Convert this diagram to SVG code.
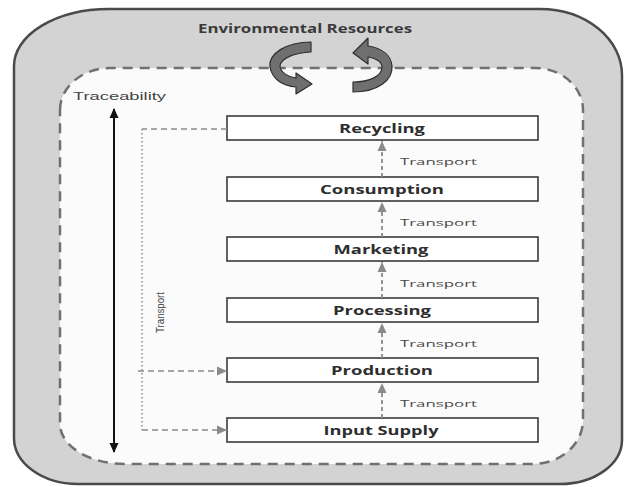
<svg xmlns="http://www.w3.org/2000/svg" width="630" height="487" viewBox="0 0 630 487">
  <style>
    .box { fill: #ffffff; stroke: #3a3a3a; stroke-width: 1.6; }
    .lbl { font-family: "Open Sans", "DejaVu Sans", sans-serif; font-weight: bold; font-size: 12.5px; fill: #2e2e2e; text-anchor: middle; }
    .tr { font-family: "Open Sans", "DejaVu Sans", sans-serif; font-size: 9.5px; fill: #4a4a4a; }
    .flow { stroke: #8a8a8a; stroke-width: 1.8; stroke-dasharray: 4 3; fill: none; }
    .side { stroke: #8a8a8a; stroke-width: 1.5; stroke-dasharray: 6 4; fill: none; }
    .dots { stroke: #8a8a8a; stroke-width: 1.5; stroke-dasharray: 1.5 2.5; fill: none; }
    .cyc { fill: #6f6f6f; stroke: #2f2f2f; stroke-width: 1.2; stroke-linejoin: round; }
  </style>
  <defs>
    <marker id="grayHead" markerUnits="userSpaceOnUse" markerWidth="10" markerHeight="10" viewBox="0 0 10 10" refX="10" refY="5" orient="auto">
      <path d="M0,0.5 L10,5 L0,9.5 Z" fill="#8a8a8a"/>
    </marker>
    <marker id="blackHead" markerUnits="userSpaceOnUse" markerWidth="10" markerHeight="10" viewBox="0 0 10 10" refX="9" refY="5" orient="auto-start-reverse">
      <path d="M0,0.5 L10,5 L0,9.5 Z" fill="#111111"/>
    </marker>
  </defs>

  <!-- outer environment shell -->
  <g id="environment">
    <path d="M14,66 A95,57 0 0 1 109,9 L540,9 A82,66 0 0 1 622,75 L622,440 A62,44 0 0 1 560,484 L78,484 A64,46 0 0 1 14,438 Z" fill="#d3d3d3" stroke="#4a4a4a" stroke-width="2.5"/>
    <text x="305" y="33" font-family="Open Sans, DejaVu Sans, sans-serif" font-weight="bold" font-size="12" fill="#3a3a3a" text-anchor="middle" textLength="214" lengthAdjust="spacingAndGlyphs">Environmental Resources</text>
  </g>

  <!-- supply chain boundary -->
  <g id="chain">
    <path d="M60,110 A50,42 0 0 1 110,68 L535,68 A48,42 0 0 1 583,110 L583,420 A50,44 0 0 1 533,464 L125,464 A65,40 0 0 1 60,424 Z" fill="#fbfbfb" stroke="#707070" stroke-width="2.5" stroke-dasharray="10 7"/>
    <text x="73" y="100" font-family="Liberation Sans, Arial, sans-serif" font-size="10.5" fill="#444444" textLength="93" lengthAdjust="spacingAndGlyphs">Traceability</text>
  </g>

  <!-- exchange arrows with the environment -->
  <g id="exchange">
    <path class="cyc" d="M311,42 C286,42 268,54 270,67 C272,80 284,86 296,87 L296,94 L312,84 L296,73 L296,78 C288,77 280,72 280,66 C281,58 294,53 311,52 Z"/>
    <path class="cyc" d="M353,92 C378,92 393,80 392,66 C391,55 382,48 368,46 L368,38 L353,53 L368,64 L368,57 C376,58 382,62 382,67 C382,76 370,82 353,82 Z"/>
  </g>

  <!-- stages -->
  <g id="recycling">
    <rect class="box" x="227" y="116" width="311" height="24"/>
    <text class="lbl" x="382" y="132.5" textLength="86" lengthAdjust="spacingAndGlyphs">Recycling</text>
  </g>
  <g id="consumption">
    <rect class="box" x="227" y="177" width="311" height="24"/>
    <text class="lbl" x="382" y="193.5" textLength="124" lengthAdjust="spacingAndGlyphs">Consumption</text>
  </g>
  <g id="marketing">
    <rect class="box" x="227" y="237" width="311" height="24"/>
    <text class="lbl" x="381" y="253.5" textLength="95" lengthAdjust="spacingAndGlyphs">Marketing</text>
  </g>
  <g id="processing">
    <rect class="box" x="227" y="298" width="311" height="24"/>
    <text class="lbl" x="382" y="314.5" textLength="98" lengthAdjust="spacingAndGlyphs">Processing</text>
  </g>
  <g id="production">
    <rect class="box" x="227" y="358" width="311" height="24"/>
    <text class="lbl" x="382" y="374.5" textLength="102" lengthAdjust="spacingAndGlyphs">Production</text>
  </g>
  <g id="input-supply">
    <rect class="box" x="227" y="418" width="311" height="24"/>
    <text class="lbl" x="381" y="434.5" textLength="115" lengthAdjust="spacingAndGlyphs">Input Supply</text>
  </g>

  <!-- connectors -->
  <g id="connectors">
    <!-- traceability axis -->
    <line x1="114" y1="109" x2="114" y2="452" stroke="#111111" stroke-width="2" marker-start="url(#blackHead)" marker-end="url(#blackHead)"/>

    <!-- stage-to-stage transport -->
    <line class="flow" x1="382" y1="177" x2="382" y2="141" marker-end="url(#grayHead)"/>
    <line class="flow" x1="382" y1="237" x2="382" y2="202" marker-end="url(#grayHead)"/>
    <line class="flow" x1="382" y1="298" x2="382" y2="262" marker-end="url(#grayHead)"/>
    <line class="flow" x1="382" y1="358" x2="382" y2="323" marker-end="url(#grayHead)"/>
    <line class="flow" x1="382" y1="418" x2="382" y2="383" marker-end="url(#grayHead)"/>
    <text class="tr" x="400" y="165" textLength="77" lengthAdjust="spacingAndGlyphs">Transport</text>
    <text class="tr" x="400" y="226" textLength="77" lengthAdjust="spacingAndGlyphs">Transport</text>
    <text class="tr" x="400" y="286.5" textLength="77" lengthAdjust="spacingAndGlyphs">Transport</text>
    <text class="tr" x="400" y="346.5" textLength="77" lengthAdjust="spacingAndGlyphs">Transport</text>
    <text class="tr" x="400" y="406.5" textLength="77" lengthAdjust="spacingAndGlyphs">Transport</text>

    <!-- return transport from recycling -->
    <line class="side" x1="227" y1="129" x2="142" y2="129"/>
    <line class="dots" x1="142" y1="129" x2="142" y2="430"/>
    <line class="side" x1="138" y1="371" x2="227" y2="371" marker-end="url(#grayHead)"/>
    <line class="side" x1="142" y1="430" x2="227" y2="430" marker-end="url(#grayHead)"/>
    <text transform="translate(164,333) rotate(-90)" font-family="Liberation Sans, Arial, sans-serif" font-size="11" fill="#444444" textLength="41" lengthAdjust="spacingAndGlyphs">Transport</text>
  </g>
</svg>
